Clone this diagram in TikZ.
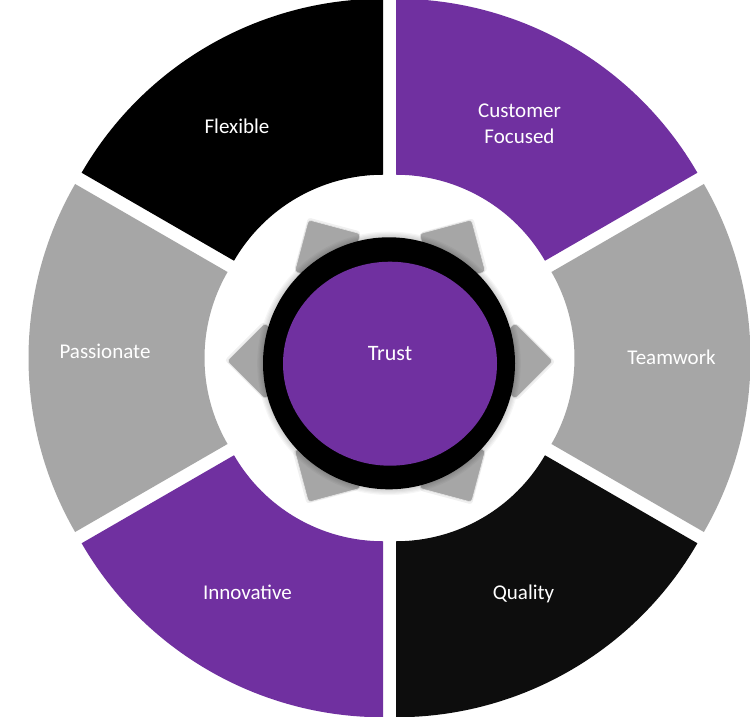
\documentclass[tikz,border=0pt]{standalone}
\usepackage{fontspec}
\setmainfont{Carlito}
\definecolor{cpurple}{HTML}{7030A0}
\definecolor{cgray}{HTML}{A6A6A6}
\definecolor{cqual}{HTML}{0D0D0D}
\definecolor{cedge}{HTML}{E6E6E6}
\tikzset{
  seg/.style={fill=#1},
  gshape/.style={fill=cgray, draw=cedge, line width=0.6pt, rounded corners=3pt},
  lbl/.style={text=white, font=\fontsize{21}{25}\selectfont, inner sep=0pt, anchor=base},
  tlbl/.style={text=white, font=\fontsize{22}{26}\selectfont, inner sep=0pt, anchor=base}
}
\begin{document}
\begin{tikzpicture}[x=1pt,y=1pt]
\useasboundingbox (0,0) rectangle (750,716);
\fill[white] (0,0) rectangle (750,716);
\clip (0,0) rectangle (750,716);
% ring segments (exploded)
\begin{scope}[shift={(389.5,358)}]
\foreach \s/\c in {30/cpurple, -30/cgray, -90/cqual, -150/cpurple, 150/cgray, 90/black} {
  \pgfmathsetmacro\e{\s+60}
  \pgfmathsetmacro\b{\s+30}
  \fill[seg=\c, shift={(\b:13pt)}] (\s:172pt) arc[start angle=\s, end angle=\e, radius=172pt]
     -- (\e:348pt) arc[start angle=\e, end angle=\s, radius=348pt] -- cycle;
}
\end{scope}
% gray corner shapes behind the centre
\begin{scope}[shift={(390,355)}]
\foreach \t in {0,60,120,180,240,300} {
  \fill[black, opacity=0.06, rotate=\t, shift={(0.8pt,-0.8pt)}, rounded corners=3pt]
     (164.5,0) -- (126,38.5) -- (87,0) -- (126,-38.5) -- cycle;
  \path[gshape, rotate=\t] (163,0) -- (125,38) -- (87,0) -- (125,-38) -- cycle;
}
\end{scope}
% shadow of the ring
\coordinate (c) at (389,352.7);
\foreach \r in {127,128.2,129.4,130.6,131.8} {
  \fill[black, opacity=0.035] (c) circle[radius=\r pt];
}
% centre ring and circle
\fill[black] (c) circle[radius=126pt];
\fill[cpurple] (390,352.3) ellipse[x radius=107pt, y radius=102pt];
% labels
\node[tlbl] (trust) at (390,355) {Trust};
\node[lbl] (flex) at (237,582) {Flexible};
\node[lbl] (cust1) at (519.5,598) {Customer};
\node[lbl] (cust2) at (519.5,572) {Focused};
\node[lbl] (team) at (671.5,351) {Teamwork};
\node[lbl] (qual) at (523.5,117) {Quality};
\node[lbl] (innov) at (247.5,117) {Innovative};
\node[lbl] (pass) at (105,357) {Passionate};
\end{tikzpicture}
\end{document}
